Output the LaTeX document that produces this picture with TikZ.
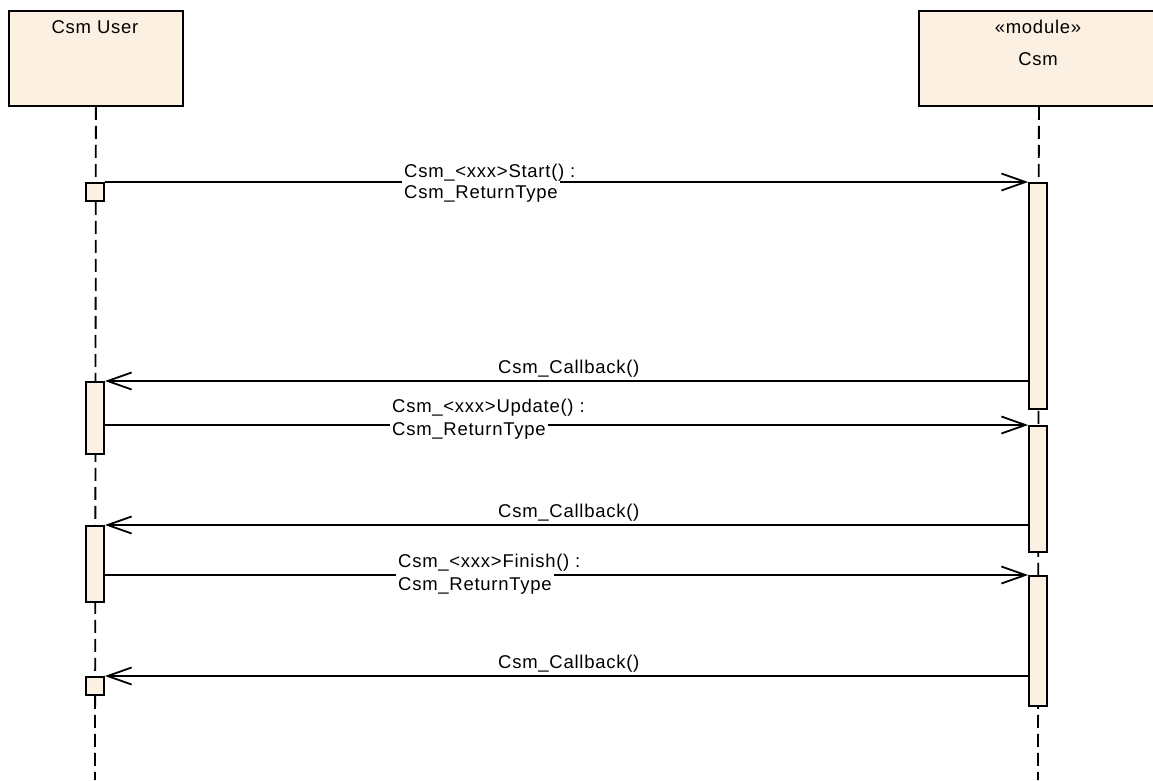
\documentclass[tikz,border=0pt]{standalone}
\usepackage{fontspec}
\setmainfont[LetterSpace=4]{Liberation Sans}
\usetikzlibrary{arrows.meta}
\definecolor{umlfill}{RGB}{251,240,225}
\begin{document}
\begin{tikzpicture}[x=1pt,y=-1pt,
  font=\fontsize{18.5}{22}\selectfont,
  headbox/.style={draw, line width=1.8pt, fill=umlfill, inner sep=0pt, anchor=north west},
  actbox/.style={draw, line width=1.8pt, fill=umlfill, inner sep=0pt, minimum width=18pt, anchor=north},
  lifeline/.style={line width=1.8pt, dash pattern=on 13pt off 6pt},
  msgline/.style={line width=1.8pt, -{Straight Barb[length=24pt,width=17pt,line width=1.8pt]}},
  rettype/.style={fill=white, inner xsep=2pt, inner ysep=5pt, anchor=base west},
  calltext/.style={inner sep=0pt, anchor=base west},
]
\useasboundingbox (0,0) rectangle (1153,780);
\clip (0,0) rectangle (1153,780);

% participants
\node[headbox, minimum width=174pt, minimum height=95pt] (user) at (8,10) {};
\node[headbox, minimum width=240pt, minimum height=95pt] (csm) at (918,10) {};
\node[anchor=base] (userlbl) at (95,33) {Csm User};
\node[anchor=base] (stereo) at (1038,33) {«module»};
\node[anchor=base] (csmlbl) at (1038,65) {Csm};

% lifelines
\coordinate (userend) at (95,780);
\coordinate (csmend) at (1038,780);
\draw[lifeline] (user.south) -- (userend);
\draw[lifeline] (csm.south) -- (csmend);

% activations of Csm User
\node[actbox, minimum height=18pt] (lsq1) at (95,182) {};
\node[actbox, minimum height=72pt] (la1) at (95,381) {};
\node[actbox, minimum height=76pt] (la2) at (95,525) {};
\node[actbox, minimum height=18pt] (lsq2) at (95,676) {};

% activations of Csm
\node[actbox, minimum height=226pt] (ra1) at (1038,182) {};
\node[actbox, minimum height=126pt] (ra2) at (1038,425) {};
\node[actbox, minimum height=130pt] (ra3) at (1038,575) {};

% messages
\draw[msgline] (lsq1.north east) -- (ra1.north west);
\draw[msgline] (la1.north east -| ra1.west) -- (la1.north east);
\draw[msgline] (la1.east |- ra2.north) -- (ra2.north west);
\draw[msgline] (la2.north east -| ra2.west) -- (la2.north east);
\draw[msgline] (la2.east |- ra3.north) -- (ra3.north west);
\draw[msgline] (lsq2.north east -| ra3.west) -- (lsq2.north east);

% message labels
\node[rettype] (startret) at (402,198) {Csm\_ReturnType};
\node[calltext] (startcall) at (404,177) {Csm\_<xxx>Start() :};
\node[calltext] (cb1) at (498,373) {Csm\_Callback()};
\node[rettype] (updret) at (390,435) {Csm\_ReturnType};
\node[calltext] (updcall) at (392,412) {Csm\_<xxx>Update() :};
\node[calltext] (cb2) at (498,517) {Csm\_Callback()};
\node[rettype] (finret) at (396,590) {Csm\_ReturnType};
\node[calltext] (fincall) at (398,567) {Csm\_<xxx>Finish() :};
\node[calltext] (cb3) at (498,668) {Csm\_Callback()};
\end{tikzpicture}
\end{document}
